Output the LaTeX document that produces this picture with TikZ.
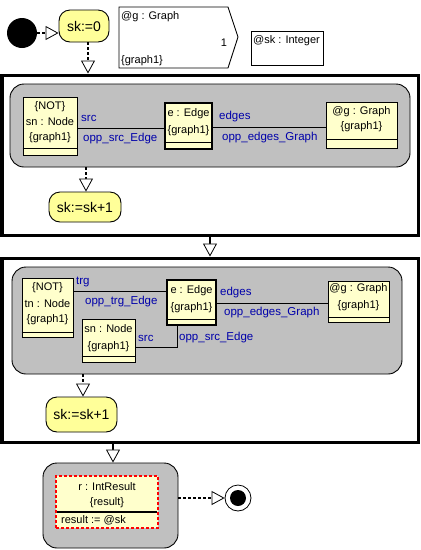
\documentclass[tikz,border=0pt]{standalone}
\usepackage{fontspec}
\setmainfont{Liberation Sans}
\usetikzlibrary{arrows.meta,calc}
\definecolor{stateY}{RGB}{255,255,153}
\definecolor{boxY}{RGB}{255,255,204}
\definecolor{grayR}{RGB}{192,192,192}
\definecolor{lblue}{RGB}{0,0,170}
\begin{document}
\begin{tikzpicture}[x=1pt,y=-1pt,
  txt/.style={font=\fontsize{11}{12}\selectfont, inner sep=0pt},
  lbl/.style={font=\fontsize{11.5}{12}\selectfont, inner sep=0pt, text=lblue, anchor=west},
  objbox/.style={draw, fill=boxY, line width=0.9pt, inner sep=0pt, rectangle},
  thickbox/.style={objbox, line width=2.6pt},
  statebox/.style={draw, fill=stateY, line width=0.9pt, rounded corners=11pt, inner sep=0pt, font=\fontsize{14}{16}\selectfont},
  bigbox/.style={draw, fill=white, line width=3pt, inner sep=0pt},
  grayarea/.style={draw, fill=grayR, line width=0.9pt, rounded corners=14pt, inner sep=0pt},
  tip/.style={-{Triangle[fill=white, length=13pt, width=14pt, line width=0.8pt]}},
  flow/.style={tip, line width=2pt, dash pattern=on 3pt off 2pt},
  solidflow/.style={tip, line width=1.6pt},
  assoc/.style={line width=0.9pt},
]
\useasboundingbox (0,0) rectangle (421,550);

% ---------- top row ----------
\node[circle, fill=black, minimum size=30pt, inner sep=0pt] (start) at (22,33) {};
\node[statebox, minimum width=50pt, minimum height=32pt] (s0) at (84,26) {sk:=0};
\draw[flow] (start.east) -- (s0.west |- start.east);

\draw[line width=0.9pt] (119,7) -- (228,7) -- (238,37) -- (228,68) -- (119,68) -- cycle;
\node[txt, anchor=west] (gname) at (121,17) {@g : Graph};
\node[txt] (gmult) at (224,43) {1};
\node[txt, anchor=west] (ggraph) at (121,61) {\{graph1\}};

\node[draw, line width=0.9pt, minimum width=72pt, minimum height=34pt, inner sep=0pt] (skbox) at (287,48) {};
\node[txt, anchor=west] (sklbl) at (253,41) {@sk : Integer};

% ---------- first loop ----------
\node[bigbox, minimum width=416pt, minimum height=160pt] (rect1) at (210,155) {};
\draw[flow] (s0.south -| 88,0) -- (rect1.north -| 88,0);
\node[grayarea, minimum width=400pt, minimum height=83pt] (gray1) at (210,125.5) {};

\draw[assoc] (77,128) -- (165,128);
\draw[assoc] (212,127) -- (326,127);

\node[objbox, minimum width=54pt, minimum height=58pt] (sn1) at (50,126) {};
\draw[line width=0.9pt] ($(sn1.south west)+(0,-7)$) -- ($(sn1.south east)+(0,-7)$);
\node[txt] at (50,107) {\{NOT\}};
\node[txt] at (50,122) {sn : Node};
\node[txt] at (50,138) {\{graph1\}};

\node[thickbox, minimum width=47pt, minimum height=46pt] (e1) at (188.5,126) {};
\draw[line width=0.9pt] ($(e1.south west)+(0,-8)$) -- ($(e1.south east)+(0,-8)$);
\node[txt] at (188.5,114) {e : Edge};
\node[txt] at (188.5,131) {\{graph1\}};

\node[objbox, minimum width=71pt, minimum height=46pt] (g1) at (361.5,125) {};
\draw[line width=0.9pt] ($(g1.south west)+(0,-9)$) -- ($(g1.south east)+(0,-9)$);
\node[txt] at (361.5,112) {@g : Graph};
\node[txt] at (361.5,127) {\{graph1\}};

\node[lbl] at (81,118) {src};
\node[lbl] at (83,139) {opp\_src\_Edge};
\node[lbl] at (219,117) {edges};
\node[lbl] at (222,138) {opp\_edges\_Graph};

\node[statebox, minimum width=72pt, minimum height=30pt] (s1) at (85,207) {sk:=sk+1};
\draw[flow] (gray1.south -| 86,0) -- (s1.north -| 86,0);

% ---------- second loop ----------
\node[bigbox, minimum width=416pt, minimum height=184pt] (rect2) at (210,350) {};
\draw[solidflow] (rect1.south -| 210,0) -- (rect2.north -| 210,0);
\node[grayarea, minimum width=390pt, minimum height=107pt] (gray2) at (207,320.5) {};

\draw[assoc] (73,291) -- (167,291);
\draw[assoc] (216,303) -- (328,303);
\draw[assoc] (135,347) -- (177,347) -- (177,325);

\node[objbox, minimum width=51pt, minimum height=59pt] (tn2) at (47.5,307.5) {};
\draw[line width=0.9pt] ($(tn2.south west)+(0,-5)$) -- ($(tn2.south east)+(0,-5)$);
\node[txt] at (47.5,288) {\{NOT\}};
\node[txt] at (47.5,304) {tn : Node};
\node[txt] at (47.5,320) {\{graph1\}};

\node[objbox, minimum width=53pt, minimum height=43pt] (sn2) at (108.5,340.5) {};
\draw[line width=0.9pt] ($(sn2.south west)+(0,-6)$) -- ($(sn2.south east)+(0,-6)$);
\node[txt] at (108.5,329) {sn : Node};
\node[txt] at (108.5,347) {\{graph1\}};

\node[thickbox, minimum width=49pt, minimum height=45pt] (e2) at (191.5,302.5) {};
\draw[line width=0.9pt] ($(e2.south west)+(0,-7)$) -- ($(e2.south east)+(0,-7)$);
\node[txt] at (191.5,291) {e : Edge};
\node[txt] at (191.5,308) {\{graph1\}};

\node[objbox, minimum width=61pt, minimum height=41pt] (g2) at (358.5,301.5) {};
\draw[line width=0.9pt] ($(g2.south west)+(0,-5)$) -- ($(g2.south east)+(0,-5)$);
\node[txt] at (358.5,289) {@g : Graph};
\node[txt] at (358.5,306) {\{graph1\}};

\node[lbl] at (76,282) {trg};
\node[lbl] at (85,302) {opp\_trg\_Edge};
\node[lbl] at (220,293) {edges};
\node[lbl] at (224,313) {opp\_edges\_Graph};
\node[lbl] at (138,338) {src};
\node[lbl] at (179,338) {opp\_src\_Edge};

\node[statebox, minimum width=71pt, minimum height=35pt] (s2) at (81.5,414.5) {sk:=sk+1};
\draw[flow] (gray2.south -| 83,0) -- (s2.north -| 83,0);

% ---------- result ----------
\node[grayarea, minimum width=135pt, minimum height=85pt] (gray3) at (110.5,505.5) {};
\draw[solidflow] (rect2.south -| 113,0) -- (gray3.north -| 113,0);
\node[draw=red, fill=boxY, line width=1.8pt, dash pattern=on 3pt off 2pt, minimum width=102pt, minimum height=52pt, inner sep=0pt] (res) at (107,502) {};
\draw[line width=1.2pt] (57,512) -- (157,512);
\node[txt] at (107,487) {r : IntResult};
\node[txt] at (107,503) {\{result\}};
\node[txt, anchor=west] at (61,520) {result := @sk};

\node[circle, draw, fill=white, line width=0.8pt, minimum size=26pt, inner sep=0pt] (endO) at (238,498) {};
\node[circle, fill=black, minimum size=16pt, inner sep=0pt] (endI) at (238,498) {};
\draw[flow] (gray3.east |- endO) -- (endO.west);
\end{tikzpicture}
\end{document}
